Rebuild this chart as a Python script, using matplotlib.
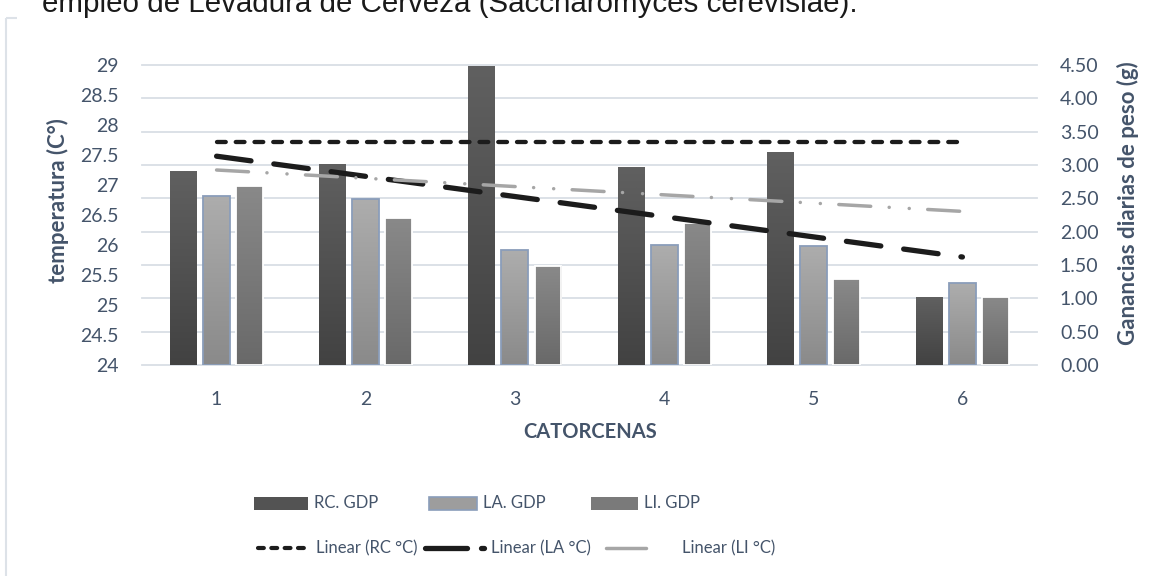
import numpy as np
import matplotlib
matplotlib.use("Agg")
import matplotlib.pyplot as plt
from matplotlib.colors import LinearSegmentedColormap
from matplotlib.ticker import MultipleLocator, FuncFormatter

plt.rcParams["font.family"] = ["Lato", "DejaVu Sans"]
plt.rcParams["lines.scale_dashes"] = False

# ---- data -------------------------------------------------------------
catorcenas = [1, 2, 3, 4, 5, 6]
rc_gdp = [2.91, 3.02, 4.48, 2.97, 3.20, 1.02]
la_gdp = [2.54, 2.49, 1.72, 1.80, 1.79, 1.23]
li_gdp = [2.68, 2.20, 1.48, 2.13, 1.29, 1.02]

# linear temperature trends (°C) at the first and last catorcena
trend_x = [1, 6]
rc_trend = [27.72, 27.72]
la_trend = [27.48, 25.80]
li_trend = [27.25, 26.56]

bar_names = ["RC. GDP", "LA. GDP", "LI. GDP"]
trend_names = ["Linear (RC °C)", "Linear (LA °C)", "Linear (LI °C)"]

TEXT = "#44546a"
GRID = "#d9dee5"
W, H = 1164, 576

fig = plt.figure(figsize=(W / 100, H / 100), dpi=100)


def box(l, t, r, b):
    return [l / W, 1 - b / H, (r - l) / W, (b - t) / H]


ax_t = fig.add_axes(box(142, 65, 1037, 365))   # temperature, left
ax_g = ax_t.twinx()                              # daily weight gain, right
ax_t.set_zorder(ax_g.get_zorder() + 1)
ax_t.patch.set_visible(False)

# ---- bars (gradient filled) --------------------------------------------
width = 0.18
step = 0.222
bar_styles = [
    (rc_gdp, "#606060", "#424242", "none", 0.0),
    (la_gdp, "#adadad", "#8a8a8a", "#8a9dba", 1.3),
    (li_gdp, "#898989", "#696969", "white", 1.3),
]
grad = np.linspace(0, 1, 128).reshape(-1, 1)
for i, (vals, top, bot, ec, lw) in enumerate(bar_styles):
    xs = np.array(catorcenas) + (i - 1) * step
    bars = ax_g.bar(xs, vals, width, facecolor="none", edgecolor=ec,
                    linewidth=lw, zorder=3)
    cmap = LinearSegmentedColormap.from_list(f"bar{i}", [bot, top])
    for b in bars:
        x0, w, h = b.get_x(), b.get_width(), b.get_height()
        im = ax_g.imshow(grad, extent=(x0, x0 + w, 0, h), origin="lower",
                         cmap=cmap, aspect="auto", zorder=2,
                         interpolation="bilinear")
        im.set_clip_path(b)

# ---- trend lines ---------------------------------------------------------
ax_t.plot(trend_x, rc_trend, color="#1c1c1c", lw=3.1, dashes=(6.3, 7.2),
          dash_capstyle="round")
ax_t.plot(trend_x, la_trend, color="#1c1c1c", lw=3.8, dashes=(25, 16.6),
          dash_capstyle="round")
ax_t.plot(trend_x, li_trend, color="#a6a6a6", lw=2.5,
          dashes=(23, 13.3, 0.05, 14.4, 0.05, 13.3), dash_capstyle="round")

# ---- axes ------------------------------------------------------------------
ax_t.set_xlim(0.5, 6.5)
ax_g.set_xlim(0.5, 6.5)
ax_t.set_ylim(24, 29)
ax_g.set_ylim(0, 4.5)
ax_t.yaxis.set_major_locator(MultipleLocator(0.5))
ax_g.yaxis.set_major_locator(MultipleLocator(0.5))
ax_t.yaxis.set_major_formatter(FuncFormatter(lambda v, p: f"{v:g}"))
ax_g.yaxis.set_major_formatter(FuncFormatter(lambda v, p: f"{v:.2f}"))
ax_g.grid(axis="y", color=GRID, lw=1.3)
ax_g.set_axisbelow(True)
for gl in ax_g.get_ygridlines():
    gl.set_clip_on(False)
for a in (ax_t, ax_g):
    for s in a.spines.values():
        s.set_visible(False)
ax_t.set_xticks(catorcenas)
ax_t.tick_params(axis="x", length=0, pad=18.5, labelsize=14, labelcolor=TEXT)
ax_t.tick_params(axis="y", length=0, pad=17, labelsize=14, labelcolor=TEXT)
ax_g.tick_params(axis="y", length=0, pad=16.5, labelsize=14, labelcolor=TEXT)

fig.text(590 / W, 1 - 432 / H, "CATORCENAS", ha="center", va="center",
         fontsize=14.5, fontweight="bold", color=TEXT)
fig.text(58 / W, 1 - 201 / H, "temperatura (C°)", ha="center", va="center",
         rotation=90, fontsize=16, fontweight="bold", color=TEXT)
fig.text(1128 / W, 1 - 203 / H, "Ganancias diarias de peso (g)", ha="center",
         va="center", rotation=90, fontsize=16, fontweight="bold", color=TEXT)

# ---- overlay in pixel coordinates: frame, legend, caption ----------------
ov = fig.add_axes([0, 0, 1, 1])
ov.set_xlim(0, W)
ov.set_ylim(H, 0)
ov.axis("off")
ov.patch.set_visible(False)

frame_c = "#dde2e8"
ov.plot([5.5, 5.5], [17.5, H], color=frame_c, lw=1.5, solid_capstyle="butt")
ov.plot([5.5, 17], [17.5, 17.5], color=frame_c, lw=1.5, solid_capstyle="butt")

LEG_FS = 12
row1, row2 = 503, 548
patch_specs = [(254, 54, "#535353", "none"), (429, 48, "#9d9d9d", "#8a9dba"),
               (591, 47, "#7a7a7a", "none")]
for (x0, pw, fc, ec), name in zip(patch_specs, bar_names):
    ov.add_patch(plt.Rectangle((x0, row1 - 6.5), pw, 13, facecolor=fc,
                               edgecolor=ec, lw=1.2))
    ov.text(x0 + pw + 6, row1, name, va="center", ha="left",
            fontsize=LEG_FS, color=TEXT)

# line handles
ov.plot([258, 309], [row2, row2], color="#1c1c1c", lw=3.0, dashes=(4.2, 5.4),
        dash_capstyle="round")
ov.plot([425, 467], [row2, row2], color="#1c1c1c", lw=3.8,
        solid_capstyle="round")
ov.plot([481, 484], [row2, row2], color="#1c1c1c", lw=3.8,
        solid_capstyle="round")
ov.plot([606, 646], [row2, row2], color="#a6a6a6", lw=2.5,
        solid_capstyle="round")
ov.plot([663, 663.2], [row2, row2], color="#a6a6a6", lw=2.5,
        solid_capstyle="round")
for x0, name in zip([316, 491, 682], trend_names):
    ov.text(x0, row2, name, va="center", ha="left", fontsize=LEG_FS,
            color=TEXT)

caption = fig.text(42 / W, 1 - 12 / H,
                   "empleo de Levadura de Cerveza (Saccharomyces cerevisiae).",
                   family=["Liberation Sans", "DejaVu Sans"], fontsize=20,
                   color="#1a1a1a", ha="left", va="baseline")
fig.canvas.draw()
cw = caption.get_window_extent().width
caption.set_fontsize(20 * 813 / cw)

fig.savefig("out.png", dpi=100)
